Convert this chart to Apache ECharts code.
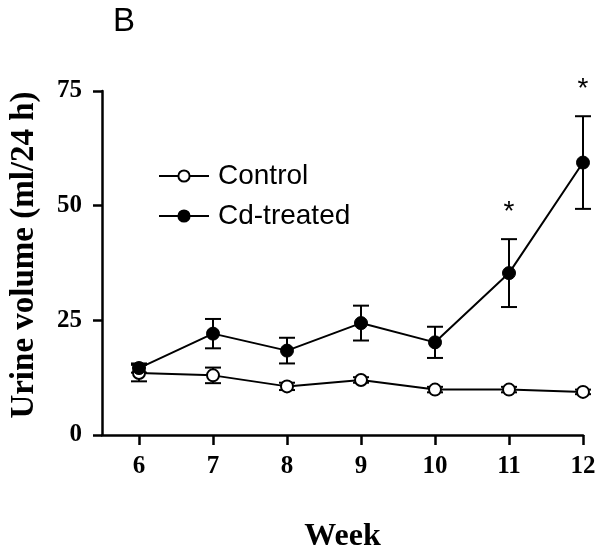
<!DOCTYPE html>
<html>
<head>
<meta charset="utf-8">
<script src="https://cdn.jsdelivr.net/npm/echarts@6/dist/echarts.min.js"></script>
<style>html,body{margin:0;padding:0;background:#fff}#c{width:600px;height:551px}</style>
</head>
<body>
<div id="c"></div>
<script>
var weeks = [6, 7, 8, 9, 10, 11, 12];
var weekTicks = [6, 7, 8, 9, 10, 11, 12];
var controlMean = [13.5, 13.0, 10.6, 12.0, 9.9, 9.9, 9.4];
var controlSem = [1.8, 1.7, 0.8, 0.6, 0.6, 0.6, 0.5];
var cdMean = [14.6, 22.1, 18.4, 24.4, 20.2, 35.3, 59.4];
var cdSem = [1.0, 3.2, 2.8, 3.8, 3.4, 7.4, 10.1];
var cdSig = ['', '', '', '', '', '*', '*'];

function pairs(xs, ys) { return xs.map(function (x, i) { return [x, ys[i]]; }); }
function errData(xs, m, s, sig) { return xs.map(function (x, i) { return [x, m[i], s[i], sig ? sig[i] : '']; }); }

var SERIF = '"Liberation Serif", "Times New Roman", serif';
var SANS = '"Liberation Sans", Arial, sans-serif';

function renderErr(params, api) {
  var x = api.value(0), m = api.value(1), s = api.value(2);
  var sig = api.value(3);
  var top = api.coord([x, m + s]);
  var bot = api.coord([x, m - s]);
  var cap = 8;
  var st = { stroke: '#000', lineWidth: 2 };
  var children = [
    { type: 'line', shape: { x1: top[0], y1: top[1], x2: bot[0], y2: bot[1] }, style: st },
    { type: 'line', shape: { x1: top[0] - cap, y1: top[1], x2: top[0] + cap, y2: top[1] }, style: st },
    { type: 'line', shape: { x1: bot[0] - cap, y1: bot[1], x2: bot[0] + cap, y2: bot[1] }, style: st }
  ];
  if (sig && sig !== '-') {
    children.push({ type: 'text', x: top[0], y: top[1] - 27, style: { text: String(sig), fill: '#000', font: '28px ' + SANS, align: 'center', verticalAlign: 'middle' } });
  }
  return { type: 'group', children: children };
}

var chart = echarts.init(document.getElementById('c'), null, { renderer: 'canvas' });
chart.setOption({
  animation: false,
  backgroundColor: '#fff',
  title: { text: 'B', left: 108, top: 0, textStyle: { fontFamily: SANS, fontWeight: 'normal', fontSize: 33, color: '#000' } },
  legend: {
    data: ['Control', 'Cd-treated'], orient: 'vertical', left: 158, top: 162, padding: 0,
    itemWidth: 50, itemHeight: 14, itemGap: 12,
    textStyle: { fontFamily: SANS, fontSize: 28, color: '#000', padding: [0, 0, 0, 4] }
  },
  grid: { left: 102, right: 17, top: 91, bottom: 116, containLabel: false, outerBoundsMode: 'none' },
  xAxis: {
    type: 'value', min: 5.5, max: 12,
    name: 'Week', nameLocation: 'middle', nameGap: 86,
    nameTextStyle: { fontFamily: SERIF, fontWeight: 'bold', fontSize: 32, color: '#000' },
    axisLine: { lineStyle: { color: '#000', width: 2.5 } },
    axisTick: { show: true, inside: false, length: 10, lineStyle: { color: '#000', width: 2.5 }, customValues: weekTicks },
    axisLabel: { customValues: weekTicks, margin: 19, fontFamily: SERIF, fontWeight: 'bold', fontSize: 25, color: '#000' },
    splitLine: { show: false }
  },
  yAxis: {
    type: 'value', min: 0, max: 75, interval: 25,
    name: 'Urine volume (ml/24 h)', nameLocation: 'middle', nameGap: 61,
    nameTextStyle: { fontFamily: SERIF, fontWeight: 'bold', fontSize: 33, color: '#000', padding: [0, 0, 0, 16] },
    axisLine: { show: true, lineStyle: { color: '#000', width: 2.5 } },
    axisTick: { show: true, inside: false, length: 9, lineStyle: { color: '#000', width: 2.5 } },
    axisLabel: { margin: 20, fontFamily: SERIF, fontWeight: 'bold', fontSize: 25, color: '#000' },
    splitLine: { show: false }
  },
  series: [
    { type: 'custom', name: 'errC', data: errData(weeks, controlMean, controlSem), renderItem: renderErr, z: 1, clip: false, silent: true },
    { type: 'custom', name: 'errCd', data: errData(weeks, cdMean, cdSem, cdSig), renderItem: renderErr, z: 1, clip: false, silent: true },
    {
      type: 'line', name: 'Control', data: pairs(weeks, controlMean), z: 3,
      symbol: 'circle', symbolSize: 12, showAllSymbol: true,
      lineStyle: { color: '#000', width: 2 },
      itemStyle: { color: '#fff', borderColor: '#000', borderWidth: 2 }
    },
    {
      type: 'line', name: 'Cd-treated', data: pairs(weeks, cdMean), z: 4,
      symbol: 'circle', symbolSize: 13, showAllSymbol: true,
      lineStyle: { color: '#000', width: 2 },
      itemStyle: { color: '#000', borderColor: '#000', borderWidth: 1 }
    }
  ]
});
</script>
</body>
</html>
